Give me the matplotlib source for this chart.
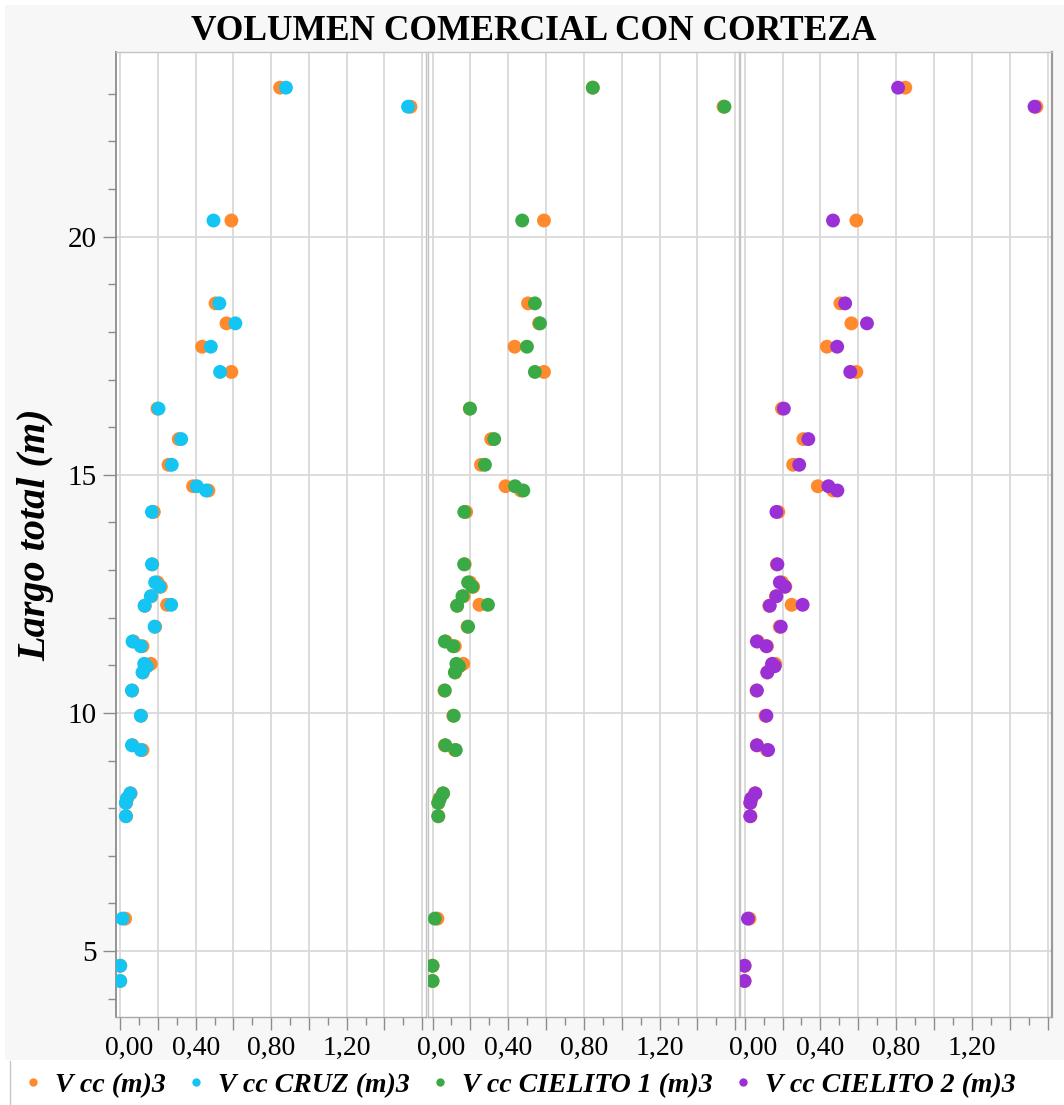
import numpy as np
import matplotlib
matplotlib.use('Agg')
import matplotlib.pyplot as plt
import matplotlib.patches as mpatches
import matplotlib.transforms as mtransforms
from matplotlib.lines import Line2D
from matplotlib.ticker import MultipleLocator, FuncFormatter

# ── data ─────────────────────────────────────────────────────────────────────
largo = [23.13, 22.73, 20.34, 18.60, 18.18, 17.69, 17.16, 16.39, 15.75, 15.21,
         14.76, 14.67, 14.22, 13.12, 12.74, 12.65, 12.45, 12.27, 12.25, 11.81,
         11.50, 11.40, 11.03, 10.98, 10.85, 10.47, 9.94, 9.32, 9.22, 8.31,
         8.20, 8.11, 7.83, 5.68, 4.69, 4.37]

v_cc = [0.847, 1.538, 0.589, 0.505, 0.563, 0.434, 0.589, 0.197, 0.310, 0.256,
        0.386, 0.467, 0.178, 0.170, 0.198, 0.215, 0.165, 0.248, 0.130, 0.185,
        0.070, 0.118, 0.162, 0.142, 0.120, 0.063, 0.110, 0.065, 0.118, 0.055,
        0.036, 0.031, 0.031, 0.026, 0.000, 0.000]

v_cruz = [0.878, 1.525, 0.494, 0.525, 0.610, 0.480, 0.529, 0.203, 0.323, 0.273,
          0.406, 0.455, 0.168, 0.168, 0.185, 0.208, 0.162, 0.270, 0.129, 0.182,
          0.065, 0.109, 0.127, 0.141, 0.118, 0.062, 0.109, 0.062, 0.109, 0.053,
          0.035, 0.030, 0.030, 0.012, 0.000, 0.000]

v_cielito1 = [0.847, 1.543, 0.474, 0.541, 0.568, 0.499, 0.541, 0.198, 0.326, 0.277,
              0.436, 0.480, 0.168, 0.167, 0.188, 0.210, 0.158, 0.293, 0.130, 0.188,
              0.065, 0.109, 0.126, 0.140, 0.118, 0.065, 0.112, 0.068, 0.123, 0.056,
              0.039, 0.030, 0.030, 0.012, 0.000, 0.000]

v_cielito2 = [0.809, 1.528, 0.466, 0.530, 0.645, 0.488, 0.557, 0.207, 0.336, 0.288,
              0.442, 0.489, 0.168, 0.173, 0.186, 0.212, 0.168, 0.306, 0.133, 0.191,
              0.065, 0.115, 0.145, 0.159, 0.120, 0.065, 0.115, 0.065, 0.124, 0.057,
              0.035, 0.030, 0.030, 0.018, 0.000, 0.000]

labels = ['V cc (m)3', 'V cc CRUZ (m)3', 'V cc CIELITO 1 (m)3', 'V cc CIELITO 2 (m)3']
colors = ['#FF8A2E', '#14C4F2', '#3AAA47', '#9A30D6']

plt.rcParams['font.family'] = ['Liberation Serif', 'DejaVu Serif']

W, H = 1064, 1105
fig = plt.figure(figsize=(W / 100, H / 100), dpi=100, facecolor='white')

# grey backdrop of the graph frame, white legend strip below
fig.patches.append(mpatches.Rectangle((5 / W, 1 - 1060 / H), 1 - 5 / W, 1055 / H,
                                      transform=fig.transFigure,
                                      facecolor='#f7f7f7', edgecolor='none', zorder=-10))
fig.add_artist(Line2D([10 / W, 10 / W], [0, 1 - 1061 / H], transform=fig.transFigure,
                      color='#c8c8c8', lw=1, zorder=-5))

# ── three side-by-side panels sharing y ──────────────────────────────────────
top_px, bot_px = 51.7, 1016.7
panels_px = [(115.7, 426), (428, 739), (740, 1052)]
comparisons = [v_cruz, v_cielito1, v_cielito2]

def fmt(v, pos):
    k = int(round(v / 0.2))
    if k >= 0 and k % 2 == 0 and v < 1.3:
        return f'{v:.2f}'.replace('.', ',')
    return ''

axes = []
for i, (l, r) in enumerate(panels_px):
    ax = fig.add_axes([l / W, 1 - bot_px / H, (r - l) / W, (bot_px - top_px) / H])
    ax.set_zorder(1)
    ax.set_facecolor('white')
    ax.set_xlim(-0.024, 1.62)
    ax.set_ylim(3.62, 23.885)

    ax.scatter(v_cc, largo, s=100, color=colors[0], edgecolors='none', zorder=3)
    ax.scatter(comparisons[i], largo, s=100, color=colors[i + 1], edgecolors='none', zorder=4)

    ax.xaxis.set_major_locator(MultipleLocator(0.2))
    ax.xaxis.set_minor_locator(MultipleLocator(0.1))
    ax.xaxis.set_major_formatter(FuncFormatter(fmt))
    ax.yaxis.set_major_locator(MultipleLocator(5))
    ax.yaxis.set_minor_locator(MultipleLocator(1))
    ax.grid(True, which='major', color='#d9d9d9', lw=1.3, zorder=0)
    ax.set_axisbelow(True)

    ax.tick_params(axis='x', which='major', direction='out', length=9.5, width=1,
                   color='#8c8c8c', labelsize=20, pad=4)
    ax.tick_params(axis='x', which='minor', direction='out', length=5.5, width=1,
                   color='#8c8c8c')
    if i == 0:
        ax.tick_params(axis='y', which='major', direction='out', length=9.5, width=1,
                       color='#8c8c8c', labelsize=21, pad=4)
        ax.tick_params(axis='y', which='minor', direction='out', length=5.5, width=1,
                       color='#8c8c8c')
    else:
        ax.tick_params(axis='y', which='both', left=False, labelleft=False)

    for sp in ax.spines.values():
        sp.set_color('#c4c4c4')
        sp.set_linewidth(1)
    if i == 0:
        ax.spines['left'].set_color('#8c8c8c')
        ax.spines['left'].set_linewidth(1.3)
    if i == 2:
        ax.spines['right'].set_color('#9a9a9a')
        ax.spines['right'].set_linewidth(1.6)
    ax.spines['bottom'].set_color('#a8a8a8')
    axes.append(ax)

# JMP nudges the "0,00" label right, clear of the panel border
fig.canvas.draw()
offset = mtransforms.ScaledTranslation(9 / 100, 0, fig.dpi_scale_trans)
for ax in axes:
    for tick in ax.xaxis.get_major_ticks():
        if abs(tick.get_loc()) < 1e-9:
            tick.label1.set_transform(tick.label1.get_transform() + offset)

fig.text(534 / W, 1 - 32 / H, 'VOLUMEN COMERCIAL CON CORTEZA',
         ha='center', va='center', fontsize=25.5, fontweight='bold')
fig.text(36 / W, 1 - 535 / H, 'Largo total (m)', rotation=90,
         ha='center', va='center', fontsize=29, fontweight='bold', style='italic')

handles = [Line2D([], [], ls='none', marker='o', markersize=6,
                  markerfacecolor=c, markeredgecolor='none') for c in colors]
fig.legend(handles, labels, loc='center left', bbox_to_anchor=(-3 / W, 1 - 1085 / H),
           ncol=4, frameon=False, handlelength=0.8, handletextpad=0.4,
           columnspacing=0.68, prop={'size': 20, 'weight': 'bold', 'style': 'italic'})

fig.savefig('out.png', dpi=100, facecolor=fig.get_facecolor())
